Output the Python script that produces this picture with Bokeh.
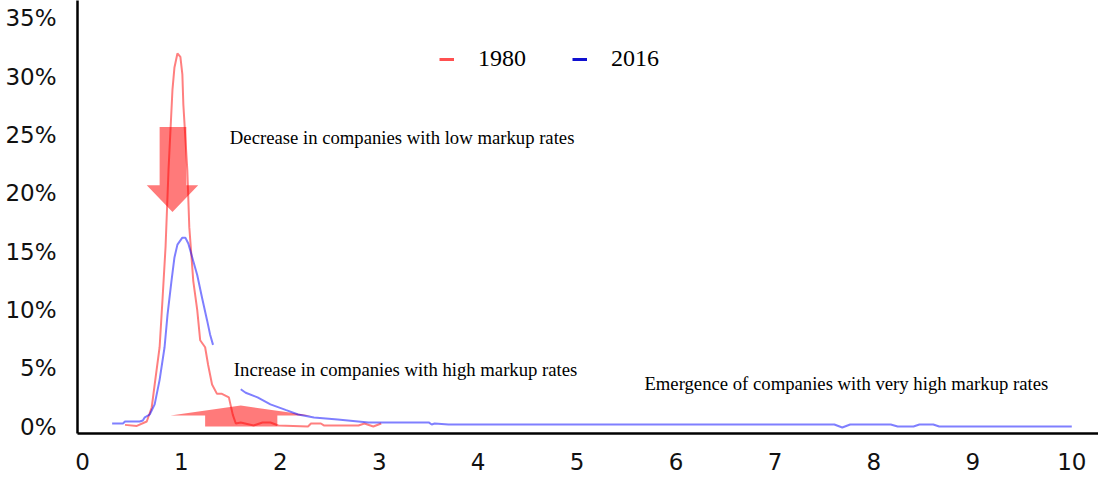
from bokeh.plotting import figure
from bokeh.models import Range1d, Label, Legend, LegendItem, FixedTicker, CustomJSTickFormatter
from bokeh.embed import file_html
from bokeh.resources import INLINE

# ---- data (markup rate vs share of companies, %) ----
x_1980 = [0.43, 0.55, 0.65, 0.70, 0.73, 0.78, 0.81, 0.84, 0.87, 0.91, 0.93, 0.96, 0.99,
          1.01, 1.02, 1.04, 1.06, 1.08, 1.12, 1.16, 1.19, 1.24, 1.27, 1.31, 1.36, 1.41,
          1.48, 1.52, 1.55, 1.60, 1.73, 1.82, 1.90, 1.98, 2.28, 2.31, 2.41, 2.44, 2.79,
          2.85, 2.94, 3.02]
y_1980 = [0.14, 0.05, 0.43, 1.63, 3.6, 6.8, 11.0, 15.4, 22.0, 28.9, 30.8, 32.0, 31.7,
          30.2, 27.6, 24.8, 22.0, 17.1, 12.5, 10.0, 7.4, 6.8, 5.3, 3.6, 2.8, 2.8,
          2.5, 1.0, 0.26, 0.34, 0.09, 0.34, 0.34, 0.09, 0.0, 0.26, 0.26, 0.09, 0.09,
          0.26, 0.0, 0.26]

x_2016 = [0.30, 0.41, 0.43, 0.58, 0.61, 0.63, 0.68, 0.73, 0.78, 0.83, 0.86, 0.90, 0.93,
          0.96, 1.01, 1.04, 1.07, 1.11, 1.16, 1.21, 1.26, 1.29, 1.32, 1.45,
          1.60, 1.65, 1.77, 1.90, 2.06, 2.18, 2.34, 2.58, 2.89, 3.50, 3.53, 3.56, 3.70,
          7.60, 7.68, 7.76, 8.17, 8.24, 8.40, 8.46, 8.60, 8.66, 10.0]
y_2016 = [0.26, 0.26, 0.43, 0.43, 0.52, 0.78, 1.03, 1.9, 4.0, 6.8, 9.6, 12.5, 14.5,
          15.6, 16.2, 16.2, 15.7, 14.5, 13.0, 11.0, 9.1, 7.9, 7.0, float("nan"),
          3.2, 2.9, 2.5, 1.9, 1.4, 1.03, 0.78, 0.6, 0.35, 0.35, 0.17, 0.26, 0.17,
          0.17, -0.09, 0.17, 0.17, 0.0, 0.0, 0.17, 0.17, 0.0, 0.0]

y_ticks = [0, 5, 10, 15, 20, 25, 30, 35]
x_ticks = [0, 1, 2, 3, 4, 5, 6, 7, 8, 9, 10]
series_names = ["1980", "2016"]

annotations = ["Decrease in companies with low markup rates",
               "Increase in companies with high markup rates",
               "Emergence of companies with very high markup rates"]

# arrow outlines (annotation shapes)
arrow_down_x = [0.78, 1.05, 1.05, 1.17, 0.91, 0.65, 0.78]
arrow_down_y = [25.7, 25.7, 20.7, 20.7, 18.4, 20.7, 20.7]
arrow_up_x = [1.24, 1.97, 1.97, 2.31, 1.60, 0.89, 1.24]
arrow_up_y = [0.0, 0.0, 0.94, 0.94, 1.8, 0.94, 0.94]

p = figure(frame_width=1021, frame_height=433, output_backend="svg", toolbar_location=None,
           x_range=Range1d(-0.05, 10.27), y_range=Range1d(-0.6, 36.54),
           min_border_left=77, min_border_right=0, min_border_top=0, min_border_bottom=44)
p.outline_line_color = None
p.grid.visible = False
p.background_fill_color = "white"

tick_font = "DejaVu Sans"
p.xaxis.ticker = FixedTicker(ticks=x_ticks)
p.yaxis.ticker = FixedTicker(ticks=y_ticks)
p.yaxis.formatter = CustomJSTickFormatter(code="return tick + '%';")
for ax in (p.xaxis[0], p.yaxis[0]):
    ax.major_tick_line_color = None
    ax.minor_tick_line_color = None
    ax.major_tick_out = 0
    ax.major_tick_in = 0
    ax.minor_tick_out = 0
    ax.minor_tick_in = 0
    ax.axis_line_color = "black"
    ax.axis_line_width = 2.5
    ax.major_label_text_font = tick_font
    ax.major_label_text_font_size = "23px"
    ax.major_label_text_color = "#111111"
p.yaxis.major_label_standoff = 21
p.xaxis.major_label_standoff = 19

# arrows
p.patch(arrow_down_x, arrow_down_y, fill_color="#ff0000", fill_alpha=0.52, line_color=None)
p.patch(arrow_up_x, arrow_up_y, fill_color="#ff0000", fill_alpha=0.52, line_color=None)

r1 = p.line(x_1980, y_1980, line_color="#ff0000", line_alpha=0.5, line_width=2)
r2 = p.line(x_2016, y_2016, line_color="#0000ff", line_alpha=0.5, line_width=2)

# legend glyph proxies (solid colour dashes)
l1 = p.line([float("nan")], [float("nan")], line_color="#ff5050", line_width=3)
l2 = p.line([float("nan")], [float("nan")], line_color="#1010d0", line_width=3)
legend = Legend(items=[LegendItem(label=series_names[0], renderers=[l1]),
                       LegendItem(label=series_names[1], renderers=[l2])],
                orientation="horizontal", location=(362, 361),
                label_text_font="Liberation Serif", label_text_font_size="24px",
                label_text_color="black",
                glyph_width=15, glyph_height=20, label_standoff=24, spacing=46,
                padding=0, margin=0, border_line_color=None,
                background_fill_alpha=0)
p.add_layout(legend)

ann_pos = [(1.49, 24.75), (1.53, 4.9), (5.68, 3.7)]
for txt, (ax_, ay_) in zip(annotations, ann_pos):
    p.add_layout(Label(x=ax_, y=ay_, text=txt, text_font="Liberation Serif",
                       text_font_size="18.7px", text_color="black",
                       text_baseline="middle", text_align="left"))

open("out.html", "w").write(file_html(p, INLINE))
